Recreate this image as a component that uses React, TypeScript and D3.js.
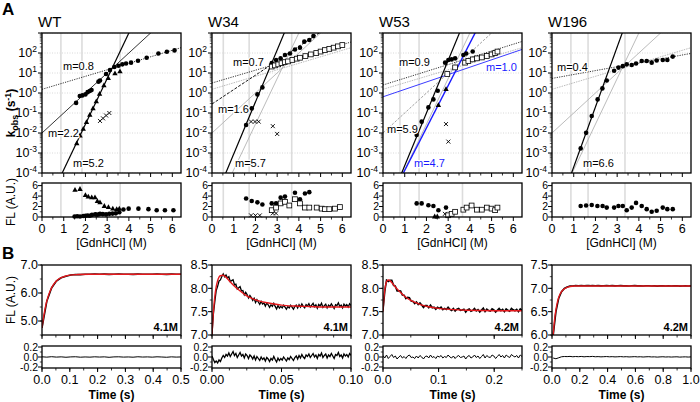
import React from "react";
import * as d3 from "d3";

const FONT = "'Liberation Sans', Arial, Helvetica, sans-serif";

// ================= Panel A data =================
const constructNames = ["WT", "W34", "W53", "W196"];
const gdnTickValues = [0, 1, 2, 3, 4, 5, 6];
const flTickValues = [0, 2, 4, 6];
const kDecadeExponents = [-4, -3, -2, -1, 0, 1, 2, 3];
const kLabelExponents = [-4, -3, -2, -1, 0, 1, 2];

// vertical grey guide lines ([GdnHCl], M)
const wtGuides = [0.87, 1.84, 3.6];
const w34Guides = [0.52, 1.71, 3.67];
const w53Guides = [0.78, 1.66, 3.66];
const w196Guides = [0.87, 1.66, 3.36];

// WT kobs
const wtCircGdn = [1.57, 1.74, 1.86, 2.0, 2.1, 2.2, 2.28, 2.6, 2.67, 2.95, 3.13, 3.33, 3.52, 3.7, 3.87, 4.1, 4.42, 4.82, 5.36, 5.75, 6.1];
const wtCircK = [0.32, 0.71, 0.76, 0.85, 1.1, 1.26, 1.41, 3.7, 4.2, 8.9, 14, 20, 23, 27, 30, 33, 41, 58, 95, 115, 135];
const wtTriGdn = [1.6, 1.75, 1.9, 2.05, 2.2, 2.35, 2.5, 2.65, 2.85, 3.05, 3.36, 3.59];
const wtTriK = [0.003, 0.0075, 0.016, 0.035, 0.08, 0.17, 0.38, 0.9, 2.4, 5.5, 9.5, 12];
const wtCrossGdn = [2.67, 2.81, 2.95, 3.1];
const wtCrossK = [0.04, 0.054, 0.075, 0.1];
const wtFitIntercept = [0.185, -2.0, -6.12];
const wtFitSlope = [0.325, 1.0, 2.28];
const wtFitM = ["0.8", "2.2", "5.2"];

// W34 kobs
const w34CircGdn = [1.57, 1.83, 2.09, 2.32, 2.75, 2.95, 3.16, 3.36, 3.59, 3.82, 4.05, 4.25, 4.48, 4.67];
const w34CircK = [0.025, 0.17, 0.85, 1.9, 31, 45, 54, 79, 95, 150, 185, 370, 450, 700];
const w34SqGdn = [2.75, 2.9, 3.05, 3.2, 3.35, 3.5, 3.7, 3.9, 4.05, 4.3, 4.55, 4.8, 5.0, 5.2, 5.4, 5.6, 5.8, 6.0];
const w34SqK = [21, 24, 27, 31, 35, 38, 45, 52, 58, 70, 85, 100, 118, 140, 160, 185, 215, 250];
const w34CrossGdn = [1.8, 1.98, 2.15, 2.8, 3.0];
const w34CrossK = [0.037, 0.037, 0.037, 0.022, 0.009];
const w34FitIntercept = [0.5, -0.55, -5.65];
const w34FitSlope = [0.32, 0.72, 2.6];
const w34FitM = ["0.7", "1.6", "5.7"];

// W53 kobs
const w53CircGdn = [1.55, 1.78, 2.09, 2.32, 2.52, 2.86, 3.01, 3.16, 3.32, 3.7, 3.83, 4.13];
const w53CircK = [0.008, 0.037, 0.19, 0.48, 1.3, 33, 45, 48, 54, 80, 95, 118];
const w53TriGdn = [2.55, 2.9];
const w53TriK = [0.25, 1.55];
const w53SqGdn = [2.96, 3.32, 3.78, 3.93, 4.13, 4.32, 4.55, 4.78, 5.0, 5.16, 5.27];
const w53SqK = [8.9, 19, 33, 40, 48, 54, 60, 71, 85, 100, 118];
const w53CrossGdn = [2.9, 3.01];
const w53CrossK = [0.028, 0.0037];
const w53FitIntercept = [0.4, -0.19, -6.26, -5.99];
const w53FitSlope = [0.34, 0.37, 2.63, 2.12];
const w53FitM = ["0.9", "1.0", "5.9", "4.7"];

// W196 kobs
const w196CircGdn = [1.32, 1.57, 1.83, 2.1, 2.32, 2.52, 2.86, 3.06, 3.26, 3.44, 3.67, 3.87, 4.13, 4.36, 4.59, 4.82, 5.1, 5.31, 5.56];
const w196CircK = [0.0017, 0.0102, 0.071, 0.48, 1.7, 4.2, 13, 18.6, 22, 27, 25, 30, 40, 40, 33, 42, 45, 45, 66];
const w196FitIntercept = [0.73, -6.7];
const w196FitSlope = [0.195, 3.0];
const w196FitM = ["0.4", "6.6"];

// FL amplitudes (A.U.)
const wtFlTriGdn = [1.52, 1.75, 2.0, 2.13, 2.29, 2.44, 2.55, 2.67, 2.87, 3.06, 3.26, 3.44, 3.56];
const wtFlTri = [5.2, 5.35, 4.2, 3.9, 3.75, 3.75, 3.05, 2.8, 2.1, 1.9, 1.6, 1.5, 1.6];
const wtFlCircGdn = [1.5, 1.62, 1.75, 1.9, 2.0, 2.1, 2.2, 2.3, 2.45, 2.55, 2.67, 2.8, 2.95, 3.1, 3.25, 3.4, 3.56, 3.75, 3.99, 4.44, 4.9, 5.28, 5.66, 6.05];
const wtFlCirc = [0.1, 0.15, 0.1, 0.2, 0.25, 0.3, 0.25, 0.4, 0.5, 0.45, 0.6, 0.55, 0.5, 0.6, 0.65, 0.7, 0.9, 1.43, 1.6, 1.6, 1.5, 1.3, 1.3, 1.3];
const wtFlCrossGdn = [2.55, 2.7];
const wtFlCross = [0.5, 0.55];

const w34FlCircGdn = [1.57, 1.83, 2.09, 2.32, 2.75, 2.95, 3.16, 3.36, 3.82, 4.05, 4.28, 4.48];
const w34FlCirc = [3.55, 3.05, 2.8, 2.4, 2.6, 2.6, 3.7, 3.9, 4.65, 3.4, 4.5, 4.75];
const w34FlSqGdn = [2.75, 2.95, 3.16, 3.36, 3.56, 3.82, 4.05, 4.28, 4.48, 4.82, 5.05, 5.2, 5.4, 5.66, 5.89];
const w34FlSq = [1.3, 1.8, 2.6, 2.9, 2.2, 3.4, 2.6, 1.8, 1.8, 1.8, 1.6, 1.5, 1.5, 1.6, 1.9];
const w34FlCrossGdn = [1.8, 2.0, 2.2, 2.8, 2.95];
const w34FlCross = [0.3, 0.3, 0.3, 0.7, 0.7];

const w53FlCircGdn = [1.55, 1.78, 2.09, 2.32, 2.55, 2.9];
const w53FlCirc = [2.6, 2.6, 2.25, 2.1, 1.3, 1.8];
const w53FlTriGdn = [2.38, 2.5];
const w53FlTri = [0.1, 0.1];
const w53FlSqGdn = [3.0, 3.16, 3.32, 3.7, 3.85, 4.08, 4.32, 4.55, 4.78, 5.0, 5.16, 5.27];
const w53FlSq = [0.33, 0.6, 1.0, 1.4, 1.8, 2.2, 1.4, 1.4, 1.8, 1.6, 1.3, 1.8];
const w53FlCrossGdn = [2.85];
const w53FlCross = [0.6];

const w196FlCircGdn = [1.32, 1.57, 1.83, 2.09, 2.33, 2.52, 2.86, 3.06, 3.26, 3.44, 3.67, 3.87, 4.13, 4.36, 4.59, 4.82, 5.1, 5.31, 5.56];
const w196FlCirc = [2.1, 2.2, 2.3, 2.1, 2.1, 1.8, 1.8, 2.1, 2.1, 1.3, 1.8, 2.7, 2.1, 1.5, 1.0, 1.2, 1.8, 1.5, 1.5];

// ================= Panel B data (stopped-flow traces) =================
const traceDenaturant = ["4.1M", "4.1M", "4.2M", "4.2M"];

const wtFitT = [0, 0.005, 0.01, 0.015, 0.02, 0.03, 0.04, 0.05, 0.06, 0.08, 0.1, 0.13, 0.17, 0.25, 0.35, 0.5];
const wtFitFL = [4.75, 5.1, 5.38, 5.62, 5.81, 6.09, 6.28, 6.41, 6.5, 6.59, 6.64, 6.66, 6.67, 6.67, 6.67, 6.67];
const wtResidual = [0.004, -0.003, 0.006, -0.002, 0.003, -0.005, 0.002, 0.005, -0.004, 0.001, -0.003, 0.004, -0.001, 0.003, -0.006, 0.002, 0.004, -0.002, 0.001, -0.004, 0.005, -0.001, 0.002, -0.003, 0.004, 0.0, -0.005, 0.003, -0.002, 0.001];

const w34FitT = [0, 0.001, 0.002, 0.003, 0.004, 0.006, 0.008, 0.01, 0.013, 0.016, 0.02, 0.025, 0.03, 0.035, 0.04, 0.05, 0.06, 0.07, 0.08, 0.1];
const w34FitFL = [7.0, 7.5, 7.82, 8.03, 8.16, 8.27, 8.28, 8.24, 8.14, 8.05, 7.95, 7.84, 7.77, 7.72, 7.69, 7.64, 7.62, 7.61, 7.6, 7.6];
const w34Residual = [
  0.02, -0.05, -0.11, -0.08, -0.12, -0.06, -0.09, -0.02, 0.03, -0.01,
  0.05, 0.02, 0.08, 0.01, 0.06, 0.11, 0.03, 0.07, -0.01, 0.04,
  0.09, 0.02, 0.05, -0.02, 0.06, 0.03, -0.03, 0.04, 0.01, -0.04,
  0.02, -0.06, 0.01, -0.03, -0.07, 0.0, -0.05, -0.02, -0.08, -0.01,
  -0.04, -0.09, -0.03, -0.06, 0.01, -0.05, -0.1, -0.02, -0.07, -0.03,
  -0.06, 0.0, -0.04, -0.08, -0.02, -0.05, 0.01, -0.03, -0.07, -0.01,
  0.02, -0.04, 0.03, -0.02, 0.05, 0.0, -0.03, 0.04, 0.01, 0.06,
  -0.01, 0.03, 0.07, 0.0, 0.04, -0.03, 0.05, 0.02, 0.08, -0.01,
  0.03, 0.06, -0.02, 0.04, 0.01, 0.07, 0.02, -0.03, 0.05, 0.03,
  0.09, 0.01, 0.04, -0.02, 0.06, 0.02, 0.05, 0.0, 0.07, 0.03,
];

const w53FitT = [0, 0.002, 0.004, 0.006, 0.008, 0.01, 0.013, 0.016, 0.02, 0.025, 0.03, 0.04, 0.05, 0.06, 0.07, 0.08, 0.1, 0.12, 0.15, 0.2, 0.25];
const w53FitFL = [7.5, 7.84, 8.03, 8.13, 8.17, 8.18, 8.16, 8.12, 8.06, 7.99, 7.93, 7.82, 7.74, 7.69, 7.64, 7.61, 7.57, 7.55, 7.53, 7.52, 7.52];
const w53Residual = [
  0.03, -0.02, 0.04, -0.03, 0.01, 0.05, -0.01, 0.02, -0.04, 0.0,
  0.03, -0.02, 0.01, -0.03, 0.02, 0.04, -0.01, 0.0, -0.03, 0.02,
  -0.02, 0.03, 0.0, -0.04, 0.01, 0.02, -0.02, 0.04, -0.01, 0.01,
  -0.03, 0.02, 0.0, 0.03, -0.02, 0.01, -0.01, 0.04, 0.0, -0.02,
  0.02, -0.03, 0.01, 0.03, -0.01, 0.0, 0.02, -0.04, 0.01, 0.03,
  -0.02, 0.0, 0.04, -0.01, 0.02, -0.03, 0.01, 0.05, -0.02, 0.03,
  0.0, -0.01, 0.04, 0.02, -0.03, 0.01, 0.05, 0.0, 0.03, -0.02,
  0.04, 0.01, -0.01, 0.05, 0.02, 0.0, 0.03, -0.02, 0.04, 0.01,
];

const w196FitT = [0.008, 0.015, 0.02, 0.03, 0.04, 0.05, 0.06, 0.08, 0.1, 0.13, 0.16, 0.2, 0.3, 0.5, 0.7, 1.0];
const w196FitFL = [6.0, 6.23, 6.37, 6.57, 6.72, 6.82, 6.89, 6.97, 7.01, 7.04, 7.05, 7.05, 7.05, 7.05, 7.05, 7.05];
const w196Residual = [
  -0.02, -0.035, -0.015, 0.005, 0.01, 0.008, 0.012, 0.005, 0.01, 0.006,
  0.011, 0.004, 0.009, 0.007, 0.012, 0.005, 0.008, 0.003, 0.006, 0.009,
  0.004, 0.007, 0.002, 0.005, 0.008, 0.003, 0.006, 0.001, 0.004, 0.007,
  0.002, 0.005, 0.0, 0.004, 0.006, 0.001, 0.003, -0.002, 0.002, 0.005,
  0.0, 0.003, -0.001, 0.002, 0.004, -0.002, 0.001, 0.003, -0.001, 0.002,
];

// ================= Layout =================
const PANEL_X = [42, 212, 383, 552];
const PW = 139;
const A_TOP = 33, A_BOT = 173;
const FL_TOP = 183, FL_BOT = 217;
const B_TOP = 265, B_BOT = 335;
const R_TOP = 346, R_BOT = 368;
const GDN_MAX = 6.4;
const TICK_FS = 12.5;
const TIGHT_FS = 10.5;

type Kind = "circle" | "triangle" | "square" | "cross";
type Series = { kind: Kind; x: number[]; y: number[] };
type Fit = { b: number; s: number; style: string };
type Lab = { text: string; dx: number; y: number; color: string };

const LINE_STYLES: Record<string, { stroke: string; w: number; dash?: string }> = {
  dot: { stroke: "#000", w: 0.8, dash: "1.2,1.2" },
  dash: { stroke: "#000", w: 0.9, dash: "3,1.5" },
  thin: { stroke: "#000", w: 0.8 },
  solid: { stroke: "#000", w: 1.2 },
  grayDot: { stroke: "#aaa", w: 0.8, dash: "1.5,1" },
  gray: { stroke: "#b3b3b3", w: 0.9 },
  grayDash: { stroke: "#888", w: 0.8, dash: "2.5,1.5" },
  blue: { stroke: "#2525ff", w: 0.9 },
  blueSolid: { stroke: "#1a1aff", w: 1.4 },
};

function mkFits(b: number[], s: number[], styles: string[]): Fit[] {
  return b.map((v, i) => ({ b: v, s: s[i], style: styles[i] }));
}
const wtRef = mkFits(wtFitIntercept, wtFitSlope, ["grayDot", "gray", "gray"]);
const wtRefDark = mkFits(wtFitIntercept, wtFitSlope, ["grayDot", "grayDash", "gray"]);

const colsA = [
  {
    guides: wtGuides,
    kin: [
      { kind: "cross", x: wtCrossGdn, y: wtCrossK },
      { kind: "triangle", x: wtTriGdn, y: wtTriK },
      { kind: "circle", x: wtCircGdn, y: wtCircK },
    ] as Series[],
    fl: [
      { kind: "triangle", x: wtFlTriGdn, y: wtFlTri },
      { kind: "cross", x: wtFlCrossGdn, y: wtFlCross },
      { kind: "circle", x: wtFlCircGdn, y: wtFlCirc },
    ] as Series[],
    fits: mkFits(wtFitIntercept, wtFitSlope, ["dot", "thin", "solid"]),
    labels: [
      { text: "m=" + wtFitM[0], dx: 21, y: 70, color: "#000" },
      { text: "m=" + wtFitM[1], dx: 6, y: 137, color: "#000" },
      { text: "m=" + wtFitM[2], dx: 31, y: 167, color: "#000" },
    ] as Lab[],
  },
  {
    guides: w34Guides,
    kin: [
      { kind: "cross", x: w34CrossGdn, y: w34CrossK },
      { kind: "circle", x: w34CircGdn, y: w34CircK },
      { kind: "square", x: w34SqGdn, y: w34SqK },
    ] as Series[],
    fl: [
      { kind: "cross", x: w34FlCrossGdn, y: w34FlCross },
      { kind: "circle", x: w34FlCircGdn, y: w34FlCirc },
      { kind: "square", x: w34FlSqGdn, y: w34FlSq },
    ] as Series[],
    fits: [...wtRef, ...mkFits(w34FitIntercept, w34FitSlope, ["dot", "dash", "solid"])],
    labels: [
      { text: "m=" + w34FitM[0], dx: 21, y: 66, color: "#000" },
      { text: "m=" + w34FitM[1], dx: 6, y: 113, color: "#000" },
      { text: "m=" + w34FitM[2], dx: 23, y: 167, color: "#000" },
    ] as Lab[],
  },
  {
    guides: w53Guides,
    kin: [
      { kind: "cross", x: w53CrossGdn, y: w53CrossK },
      { kind: "triangle", x: w53TriGdn, y: w53TriK },
      { kind: "circle", x: w53CircGdn, y: w53CircK },
      { kind: "square", x: w53SqGdn, y: w53SqK },
    ] as Series[],
    fl: [
      { kind: "cross", x: w53FlCrossGdn, y: w53FlCross },
      { kind: "triangle", x: w53FlTriGdn, y: w53FlTri },
      { kind: "circle", x: w53FlCircGdn, y: w53FlCirc },
      { kind: "square", x: w53FlSqGdn, y: w53FlSq },
    ] as Series[],
    fits: [...wtRefDark, ...mkFits(w53FitIntercept, w53FitSlope, ["dot", "blue", "solid", "blueSolid"])],
    labels: [
      { text: "m=" + w53FitM[0], dx: 16, y: 66, color: "#000" },
      { text: "m=" + w53FitM[1], dx: 103, y: 71, color: "#1a1aff" },
      { text: "m=" + w53FitM[2], dx: 4, y: 133, color: "#000" },
      { text: "m=" + w53FitM[3], dx: 31, y: 167, color: "#1a1aff" },
    ] as Lab[],
  },
  {
    guides: w196Guides,
    kin: [{ kind: "circle", x: w196CircGdn, y: w196CircK }] as Series[],
    fl: [{ kind: "circle", x: w196FlCircGdn, y: w196FlCirc }] as Series[],
    fits: [...wtRef, ...mkFits(w196FitIntercept, w196FitSlope, ["dot", "solid"])],
    labels: [
      { text: "m=" + w196FitM[0], dx: 5, y: 71, color: "#000" },
      { text: "m=" + w196FitM[1], dx: 31, y: 167, color: "#000" },
    ] as Lab[],
  },
];

const colsB = [
  { fitT: wtFitT, fitFL: wtFitFL, resid: wtResidual, t0: 0, t1: 0.5, xDom: [0, 0.5], xMajor: [0, 0.1, 0.2, 0.3, 0.4, 0.5], xMinorStep: 0.05, fmt: ".1f", yDom: [4.5, 7.0], yMajor: [5.0, 6.0, 7.0], yMinorStep: 0.5 },
  { fitT: w34FitT, fitFL: w34FitFL, resid: w34Residual, t0: 0, t1: 0.1, xDom: [0, 0.1], xMajor: [0, 0.05, 0.1], xMinorStep: 0.0125, fmt: ".2f", yDom: [7.0, 8.5], yMajor: [7.0, 7.5, 8.0, 8.5], yMinorStep: 0.25 },
  { fitT: w53FitT, fitFL: w53FitFL, resid: w53Residual, t0: 0, t1: 0.25, xDom: [0, 0.25], xMajor: [0, 0.1, 0.2], xMinorStep: 0.05, fmt: ".1f", yDom: [7.0, 8.5], yMajor: [7.0, 7.5, 8.0, 8.5], yMinorStep: 0.25 },
  { fitT: w196FitT, fitFL: w196FitFL, resid: w196Residual, t0: 0.008, t1: 1.0, xDom: [0, 1.0], xMajor: [0, 0.2, 0.4, 0.6, 0.8, 1.0], xMinorStep: 0.1, fmt: ".1f", yDom: [6.0, 7.5], yMajor: [6.0, 6.5, 7.0, 7.5], yMinorStep: 0.25 },
];
const residMajor = [-0.2, 0, 0.2];
const residMinor = [-0.1, 0.1];

function Marker({ kind, cx, cy }: { kind: Kind; cx: number; cy: number }) {
  if (kind === "circle") return <circle cx={cx} cy={cy} r={2.3} fill="#000" />;
  if (kind === "triangle")
    return <path d={`M${cx},${cy - 2.9}L${cx + 2.7},${cy + 1.9}L${cx - 2.7},${cy + 1.9}Z`} fill="#000" />;
  if (kind === "square")
    return <rect x={cx - 2.4} y={cy - 2.4} width={4.8} height={4.8} fill="#fff" stroke="#000" strokeWidth={0.8} />;
  return (
    <path d={`M${cx - 2},${cy - 2}L${cx + 2},${cy + 2}M${cx - 2},${cy + 2}L${cx + 2},${cy - 2}`} stroke="#000" strokeWidth={0.9} fill="none" />
  );
}

function range(a: number, b: number, step: number) {
  return d3.range(a, b + step / 2, step).map((v) => +v.toFixed(6));
}

function ColumnA({ i }: { i: number }) {
  const col = colsA[i];
  const x0 = PANEL_X[i];
  const x = d3.scaleLinear().domain([0, GDN_MAX]).range([x0, x0 + PW]);
  const y = d3.scaleLog().domain([1e-4, 1e3]).range([A_BOT, A_TOP]);
  const yf = d3.scaleLinear().domain([0, 6.5]).range([FL_BOT, FL_TOP]);
  const minorLog: number[] = [];
  kDecadeExponents.slice(0, -1).forEach((e) => {
    for (let m = 2; m <= 9; m++) minorLog.push(m * Math.pow(10, e));
  });
  const gdnMinor = range(0.5, 6, 1);
  const clipA = `clipA${i}`;
  const clipF = `clipF${i}`;
  return (
    <g>
      <defs>
        <clipPath id={clipA}>
          <rect x={x0} y={A_TOP} width={PW} height={A_BOT - A_TOP} />
        </clipPath>
        <clipPath id={clipF}>
          <rect x={x0} y={FL_TOP} width={PW} height={FL_BOT - FL_TOP} />
        </clipPath>
      </defs>
      <text x={x0 - 4} y={27} fontSize={15} fontFamily={FONT}>{constructNames[i]}</text>
      <g clipPath={`url(#${clipA})`}>
        {kDecadeExponents.map((e) => (
          <line key={e} x1={x0} x2={x0 + PW} y1={y(Math.pow(10, e))} y2={y(Math.pow(10, e))} stroke="#c8c8c8" strokeWidth={0.7} strokeDasharray="1,1.5" />
        ))}
        {col.guides.map((g, j) => (
          <line key={j} x1={x(g)} x2={x(g)} y1={A_TOP} y2={A_BOT} stroke="#dcdcdc" strokeWidth={1.6} />
        ))}
        {col.fits.map((f, j) => {
          const st = LINE_STYLES[f.style];
          return (
            <line key={j} x1={x(0)} x2={x(GDN_MAX)} y1={y(Math.pow(10, f.b))} y2={y(Math.pow(10, f.b + f.s * GDN_MAX))}
              stroke={st.stroke} strokeWidth={st.w} strokeDasharray={st.dash} />
          );
        })}
        {col.kin.map((s, j) => (
          <g key={j}>{s.x.map((v, k) => <Marker key={k} kind={s.kind} cx={x(v)} cy={y(s.y[k])} />)}</g>
        ))}
      </g>
      {col.labels.map((l, j) => (
        <text key={j} x={x0 + l.dx} y={l.y} fontSize={11} fontFamily={FONT} fill={l.color}
          stroke="#fff" strokeWidth={2.5} paintOrder="stroke" strokeLinejoin="round">{l.text}</text>
      ))}
      <rect x={x0} y={A_TOP} width={PW} height={A_BOT - A_TOP} fill="none" stroke="#000" strokeWidth={1.3} />
      {kDecadeExponents.map((e) => (
        <line key={e} x1={x0 - 4} x2={x0} y1={y(Math.pow(10, e))} y2={y(Math.pow(10, e))} stroke="#000" strokeWidth={1} />
      ))}
      {minorLog.map((v, j) => (
        <line key={j} x1={x0 - 2.2} x2={x0} y1={y(v)} y2={y(v)} stroke="#000" strokeWidth={0.6} />
      ))}
      {kLabelExponents.map((e) => (
        <text key={e} x={x0 - 5} y={y(Math.pow(10, e)) + 4} fontSize={TICK_FS} textAnchor="end" fontFamily={FONT}>
          10<tspan dy={-5} fontSize={8.5}>{String(e)}</tspan>
        </text>
      ))}
      {gdnTickValues.map((v) => (
        <line key={v} x1={x(v)} x2={x(v)} y1={A_BOT} y2={A_BOT + 4} stroke="#000" strokeWidth={1} />
      ))}
      {gdnMinor.map((v) => (
        <line key={v} x1={x(v)} x2={x(v)} y1={A_BOT} y2={A_BOT + 2.5} stroke="#000" strokeWidth={0.8} />
      ))}
      <g clipPath={`url(#${clipF})`}>
        {col.guides.map((g, j) => (
          <line key={j} x1={x(g)} x2={x(g)} y1={FL_TOP} y2={FL_BOT} stroke="#dcdcdc" strokeWidth={1.6} />
        ))}
      </g>
      {col.fl.map((s, j) => (
        <g key={j}>{s.x.map((v, k) => <Marker key={k} kind={s.kind} cx={x(v)} cy={yf(s.y[k])} />)}</g>
      ))}
      <rect x={x0} y={FL_TOP} width={PW} height={FL_BOT - FL_TOP} fill="none" stroke="#000" strokeWidth={1.3} />
      {flTickValues.map((v) => (
        <g key={v}>
          <line x1={x0 - 4} x2={x0} y1={yf(v)} y2={yf(v)} stroke="#000" strokeWidth={1} />
          <text x={x0 - 4} y={yf(v) + 3.8} fontSize={TIGHT_FS} textAnchor="end" fontFamily={FONT}>{v}</text>
        </g>
      ))}
      {[1, 3, 5].map((v) => (
        <line key={v} x1={x0 - 2.2} x2={x0} y1={yf(v)} y2={yf(v)} stroke="#000" strokeWidth={0.7} />
      ))}
      {gdnTickValues.map((v) => (
        <g key={v}>
          <line x1={x(v)} x2={x(v)} y1={FL_BOT} y2={FL_BOT + 4} stroke="#000" strokeWidth={1} />
          <text x={x(v)} y={233} fontSize={TICK_FS} textAnchor="middle" fontFamily={FONT}>{v}</text>
        </g>
      ))}
      {gdnMinor.map((v) => (
        <line key={v} x1={x(v)} x2={x(v)} y1={FL_BOT} y2={FL_BOT + 2.5} stroke="#000" strokeWidth={0.8} />
      ))}
      <text x={x0 + PW / 2} y={247} fontSize={12} textAnchor="middle" fontFamily={FONT}>[GdnHCl] (M)</text>
    </g>
  );
}

function ColumnB({ i }: { i: number }) {
  const c = colsB[i];
  const x0 = PANEL_X[i];
  const x = d3.scaleLinear().domain(c.xDom).range([x0, x0 + PW]);
  const y = d3.scaleLinear().domain(c.yDom).range([B_BOT, B_TOP]);
  const yr = d3.scaleLinear().domain([-0.22, 0.22]).range([R_BOT, R_TOP]);
  const fitInterp = d3.scaleLinear().domain(c.fitT).range(c.fitFL).clamp(true);
  const n = c.resid.length;
  const sampleT = c.resid.map((_, k) => c.t0 + (k * (c.t1 - c.t0)) / (n - 1));
  const dataPts: [number, number][] = sampleT.map((t, k) => [t, fitInterp(t) + c.resid[k]]);
  const residPts: [number, number][] = sampleT.map((t, k) => [t, c.resid[k]]);
  const lineData = d3.line<[number, number]>().x((d) => x(d[0])).y((d) => y(d[1]));
  const lineResid = d3.line<[number, number]>().x((d) => x(d[0])).y((d) => yr(d[1]));
  const fitPts: [number, number][] = c.fitT.map((t, k) => [t, c.fitFL[k]]);
  const lineFit = d3.line<[number, number]>().x((d) => x(d[0])).y((d) => y(d[1])).curve(d3.curveMonotoneX);
  const fmt = d3.format(c.fmt);
  const xMinor = range(c.xDom[0], c.xDom[1], c.xMinorStep);
  const yMinor = range(c.yDom[0], c.yDom[1], c.yMinorStep);
  const clip = `clipB${i}`;
  const clipR = `clipR${i}`;
  return (
    <g>
      <defs>
        <clipPath id={clip}>
          <rect x={x0} y={B_TOP} width={PW} height={B_BOT - B_TOP} />
        </clipPath>
        <clipPath id={clipR}>
          <rect x={x0} y={R_TOP} width={PW} height={R_BOT - R_TOP} />
        </clipPath>
      </defs>
      <g clipPath={`url(#${clip})`}>
        <path d={lineData(dataPts) || ""} fill="none" stroke="#000" strokeWidth={i === 1 ? 1.3 : 1.6} />
        <path d={lineFit(fitPts) || ""} fill="none" stroke="#e4181c" strokeWidth={1.4} />
      </g>
      <rect x={x0} y={B_TOP} width={PW} height={B_BOT - B_TOP} fill="none" stroke="#000" strokeWidth={1.3} />
      <text x={x0 + PW - 3} y={B_BOT - 4} fontSize={11} fontWeight="bold" textAnchor="end" fontFamily={FONT}>{traceDenaturant[i]}</text>
      {c.yMajor.map((v) => (
        <g key={v}>
          <line x1={x0 - 4} x2={x0} y1={y(v)} y2={y(v)} stroke="#000" strokeWidth={1} />
          <text x={x0 - 4} y={y(v) + 4.3} fontSize={TICK_FS} textAnchor="end" fontFamily={FONT}>{v.toFixed(1)}</text>
        </g>
      ))}
      {yMinor.map((v) => (
        <line key={v} x1={x0 - 2.2} x2={x0} y1={y(v)} y2={y(v)} stroke="#000" strokeWidth={0.7} />
      ))}
      {c.xMajor.map((v) => (
        <line key={v} x1={x(v)} x2={x(v)} y1={B_BOT} y2={B_BOT + 4} stroke="#000" strokeWidth={1} />
      ))}
      {xMinor.map((v) => (
        <line key={v} x1={x(v)} x2={x(v)} y1={B_BOT} y2={B_BOT + 2.5} stroke="#000" strokeWidth={0.8} />
      ))}
      <g clipPath={`url(#${clipR})`}>
        <path d={lineResid(residPts) || ""} fill="none" stroke="#000" strokeWidth={i === 1 ? 1.3 : 1} />
      </g>
      <rect x={x0} y={R_TOP} width={PW} height={R_BOT - R_TOP} fill="none" stroke="#000" strokeWidth={1.3} />
      {residMajor.map((v) => (
        <g key={v}>
          <line x1={x0 - 4} x2={x0} y1={yr(v)} y2={yr(v)} stroke="#000" strokeWidth={1} />
          <text x={x0 - 4} y={yr(v) + 3.8} fontSize={TIGHT_FS} textAnchor="end" fontFamily={FONT}>{v.toFixed(1)}</text>
        </g>
      ))}
      {residMinor.map((v) => (
        <line key={v} x1={x0 - 2.2} x2={x0} y1={yr(v)} y2={yr(v)} stroke="#000" strokeWidth={0.7} />
      ))}
      {c.xMajor.map((v) => (
        <g key={v}>
          <line x1={x(v)} x2={x(v)} y1={R_BOT} y2={R_BOT + 4} stroke="#000" strokeWidth={1} />
          <text x={x(v)} y={384} fontSize={TICK_FS} textAnchor="middle" fontFamily={FONT}>{fmt(v)}</text>
        </g>
      ))}
      {xMinor.map((v) => (
        <line key={v} x1={x(v)} x2={x(v)} y1={R_BOT} y2={R_BOT + 2.5} stroke="#000" strokeWidth={0.8} />
      ))}
      <text x={x0 + PW / 2} y={399} fontSize={12} fontWeight="bold" textAnchor="middle" fontFamily={FONT}>Time (s)</text>
    </g>
  );
}

export default function App() {
  return (
    <svg width={700} height={402} viewBox="0 0 700 402" style={{ position: "absolute", left: 0, top: 0, background: "#fff" }} fontFamily={FONT}>
      <rect width={700} height={402} fill="#fff" />
      <text x={2} y={15} fontSize={17} fontWeight="bold" fontFamily={FONT}>A</text>
      <text x={2} y={259} fontSize={17} fontWeight="bold" fontFamily={FONT}>B</text>
      <text transform="translate(15,113) rotate(-90)" fontSize={12} fontWeight="bold" textAnchor="middle" fontFamily={FONT}>
        k<tspan fontSize={9} dy={3}>obs</tspan><tspan dy={-3}> (s</tspan><tspan fontSize={9} dy={-4}>-1</tspan><tspan dy={4}>)</tspan>
      </text>
      <text transform="translate(15,202) rotate(-90)" fontSize={12} textAnchor="middle" fontFamily={FONT}>FL (A.U.)</text>
      <text transform="translate(15,300) rotate(-90)" fontSize={12} textAnchor="middle" fontFamily={FONT}>FL (A.U.)</text>
      {[0, 1, 2, 3].map((i) => <ColumnA key={i} i={i} />)}
      {[0, 1, 2, 3].map((i) => <ColumnB key={i} i={i} />)}
    </svg>
  );
}
